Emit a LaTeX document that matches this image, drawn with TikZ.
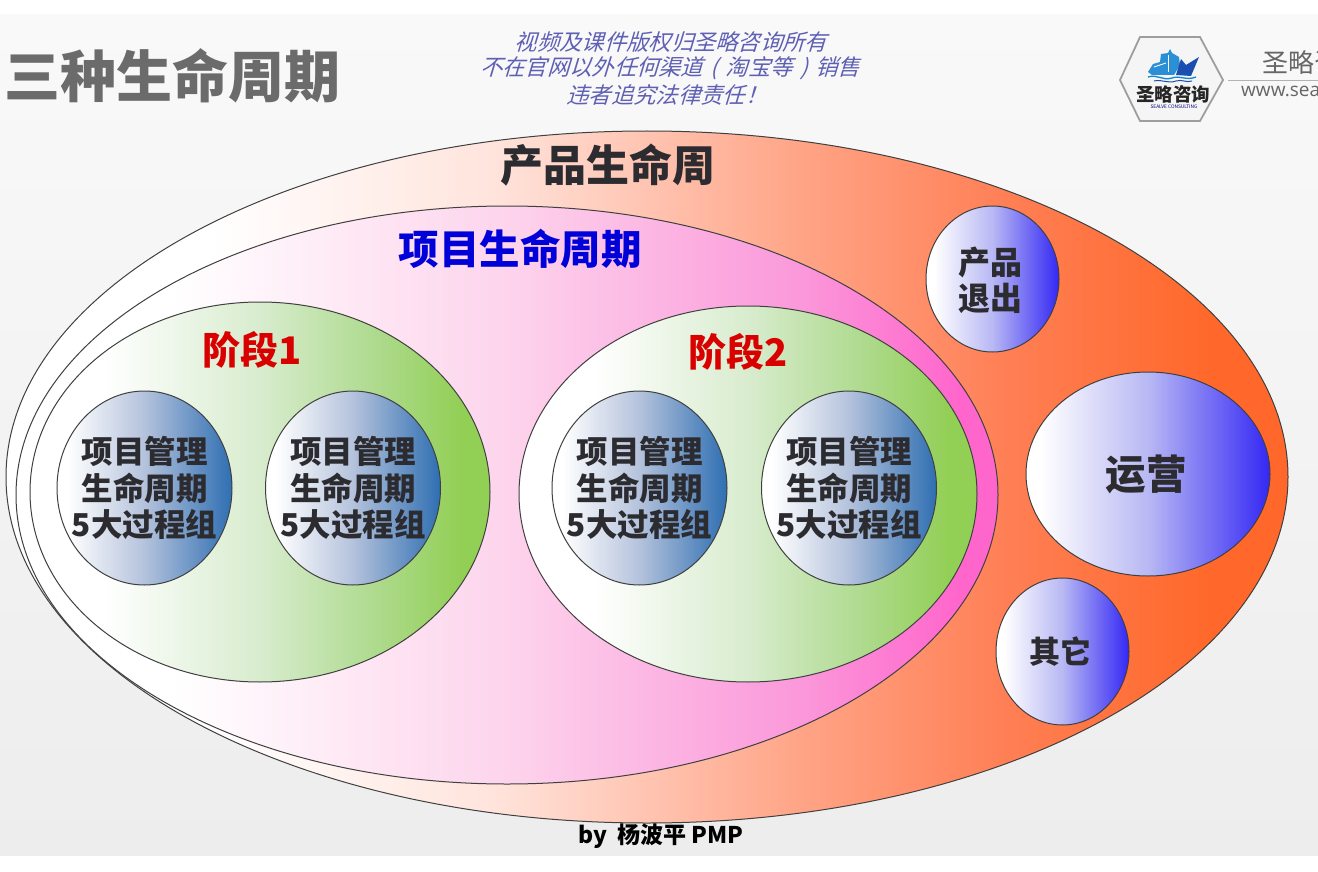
\documentclass[tikz,border=0pt]{standalone}
\usepackage{fontspec}
\usetikzlibrary{shapes.geometric}
\setmainfont{Noto Sans CJK SC}
\newfontfamily\cjkslant[FakeSlant=0.3]{Noto Sans CJK SC}
\newfontfamily\webfont{Open Sans}
\newcommand{\fsz}[1]{\fontsize{#1}{#1}\selectfont}
\definecolor{bgtop}{HTML}{F9F9F9}
\definecolor{bgbot}{HTML}{EDEDED}
\definecolor{orangeA}{HTML}{FFE4DC}
\definecolor{orangeB}{HTML}{FFA486}
\definecolor{orangeC}{HTML}{FF7F55}
\definecolor{orangeD}{HTML}{FF682A}
\definecolor{pinkA}{HTML}{FDD4EC}
\definecolor{pinkB}{HTML}{FB98DA}
\definecolor{pinkC}{HTML}{FF66CC}
\definecolor{greenA}{HTML}{D8ECCE}
\definecolor{greenB}{HTML}{B0DB91}
\definecolor{greenC}{HTML}{92CF55}
\definecolor{steelA}{HTML}{B4C2DC}
\definecolor{steelB}{HTML}{2F6FB2}
\definecolor{violetA}{HTML}{B8B8F4}
\definecolor{violetB}{HTML}{3428F4}
\definecolor{inktext}{HTML}{2B2B30}
\definecolor{slanttext}{HTML}{5F60B4}
\definecolor{shiplight}{HTML}{2B8FD6}
\definecolor{shipdark}{HTML}{1A4FB0}
\pgfdeclarehorizontalshading{orangeshade}{100bp}{color(0bp)=(white);color(33bp)=(white);color(44bp)=(orangeA);color(56bp)=(orangeB);color(64bp)=(orangeC);color(72bp)=(orangeD);color(100bp)=(orangeD)}
\pgfdeclarehorizontalshading{pinkshade}{100bp}{color(0bp)=(white);color(33bp)=(white);color(50bp)=(pinkA);color(65bp)=(pinkB);color(73bp)=(pinkC);color(100bp)=(pinkC)}
\pgfdeclarehorizontalshading{greenshade}{100bp}{color(0bp)=(white);color(33bp)=(white);color(50bp)=(greenA);color(62bp)=(greenB);color(72bp)=(greenC);color(100bp)=(greenC)}
\pgfdeclarehorizontalshading{steelshade}{100bp}{color(0bp)=(white);color(28bp)=(white);color(50bp)=(steelA);color(75bp)=(steelB);color(100bp)=(steelB)}
\pgfdeclarehorizontalshading{violetshade}{100bp}{color(0bp)=(white);color(28bp)=(white);color(50bp)=(violetA);color(75bp)=(violetB);color(100bp)=(violetB)}
\tikzset{
  blob/.style={ellipse,draw=black!75,line width=1pt,inner sep=0pt,outer sep=0pt},
  lifeblob/.style={blob,shading=orangeshade},
  projblob/.style={blob,shading=pinkshade},
  stageblob/.style={blob,shading=greenshade},
  pmblob/.style={blob,shading=steelshade,minimum width=175pt,minimum height=194pt},
  pmtext/.style={align=center,inner sep=0pt,font=\bfseries\fsz{31.5}\linespread{1.16}\selectfont,text=inktext},
  opsblob/.style={blob,shading=violetshade},
  opstext/.style={align=center,inner sep=0pt,text=inktext},
  stagelabel/.style={font=\bfseries\fsz{38},text=red!85!black,inner sep=0pt},
  notice/.style={font=\cjkslant\fsz{22.3},text=slanttext,inner sep=0pt}
}
\begin{document}
\begin{tikzpicture}[x=1pt,y=-1pt]
\useasboundingbox (0,0) rectangle (1318,872);
\fill[white] (0,0) rectangle (1318,872);
\shade[top color=bgtop,bottom color=bgbot] (0,15) rectangle (1318,855);
% main nested shapes
\node[lifeblob,minimum width=1282pt,minimum height=692pt] (life) at (647,477) {};
\node[projblob,minimum width=982pt,minimum height=578pt] (proj) at (507,495) {};
\node[stageblob,minimum width=460pt,minimum height=380pt] (stageA) at (260,492) {};
\node[stageblob,minimum width=458pt,minimum height=376pt] (stageB) at (748,494) {};
\node[pmblob] (pmA) at (144.5,488) {};
\node[pmblob] (pmB) at (353,488) {};
\node[pmblob] (pmC) at (639.5,488) {};
\node[pmblob] (pmD) at (849,488) {};
\node[pmtext] (pmAtext) at (144.5,488) {项目管理\\生命周期\\5大过程组};
\node[pmtext] (pmBtext) at (353,488) {项目管理\\生命周期\\5大过程组};
\node[pmtext] (pmCtext) at (639.5,488) {项目管理\\生命周期\\5大过程组};
\node[pmtext] (pmDtext) at (849,488) {项目管理\\生命周期\\5大过程组};
\node[opsblob,minimum width=133pt,minimum height=146pt] (exit) at (992.5,279) {};
\node[opsblob,minimum width=244pt,minimum height=204pt] (ops) at (1148,474) {};
\node[opsblob,minimum width=133pt,minimum height=147pt] (other) at (1062.5,651.5) {};
\node[opstext,font=\bfseries\fsz{32}\linespread{1.13}\selectfont] (exittext) at (990,280) {产品\\退出};
\node[opstext,font=\bfseries\fsz{40.5}] (opstextnode) at (1146,474) {运营};
\node[opstext,font=\bfseries\fsz{31}] (othertext) at (1060,652) {其它};
% labels
\node[font=\bfseries\fsz{43},text=inktext,inner sep=0pt] (lifelabel) at (608,165) {产品生命周};
\node[font=\bfseries\fsz{40.5},text=blue!85!black,inner sep=0pt] (projlabel) at (520,249) {项目生命周期};
\node[stagelabel] (stageAlabel) at (252,350) {阶段1};
\node[stagelabel] (stageBlabel) at (738,352) {阶段2};
\node[font=\bfseries\fsz{56},text=black!58,inner sep=0pt] (title) at (173,76) {三种生命周期};
\node[notice] (noticeA) at (671,42) {视频及课件版权归圣略咨询所有};
\node[notice] (noticeB) at (670,68) {不在官网以外任何渠道\hspace{7pt}(\hspace{8pt}淘宝等\hspace{8pt})\hspace{7pt}销售};
\node[notice] (noticeC) at (667,95) {违者追究法律责任！};
\node[font=\bfseries\fsz{23},text=black,inner sep=0pt] (byline) at (661,836) {by\ \ 杨波平 PMP};
% logo
\draw[line width=1.8pt,draw=black!38,fill=white!96!black] (1120,80) -- (1140,37) -- (1200,37) -- (1223,80) -- (1200,121) -- (1140,121) -- cycle;
\fill[shiplight] (1148,72) -- (1153,64) -- (1160,62) -- (1161,54) -- (1168,53) -- (1170,49) -- (1172,53) -- (1179,57) -- (1180,65) -- (1174,75) -- (1152,75) -- cycle;
\draw[white,line width=.8pt] (1154,67) -- (1166,63);
\draw[white,line width=.8pt] (1168,55) -- (1168,72);
\fill[shipdark] (1176,75) -- (1181,59) -- (1186,65) -- (1199,57) -- (1191,76) -- cycle;
\draw[cyan!70!blue,line width=1.3pt] (1148,77) .. controls (1158,74) and (1162,81) .. (1172,78) .. controls (1180,75) and (1186,81) .. (1196,77);
\draw[shipdark,line width=1pt] (1154,81) .. controls (1162,79) and (1168,84) .. (1176,81) .. controls (1182,79) and (1186,83) .. (1192,81);
\node[font=\bfseries\fsz{18.5},text=black!85,inner sep=0pt] (logotext) at (1173,94) {圣略咨询};
\node[font=\fsz{4.8},text=blue!50!black,inner sep=0pt] (logosub) at (1174,107) {SEALVE CONSULTING};
\coordinate (ruleL) at (1228,80);
\coordinate (ruleR) at (1318,80);
\draw[black!30,line width=.7pt] (ruleL) -- (ruleR);
\begin{scope}
\clip (1230,40) rectangle (1318,110);
\node[anchor=west,font=\fsz{26},text=black!60,inner sep=0pt] (brand) at (1262,63) {圣略咨};
\node[anchor=west,font=\webfont\fsz{19},text=black!60,inner sep=0pt] (web) at (1241,91) {www.sea};
\end{scope}
\end{tikzpicture}
\end{document}
